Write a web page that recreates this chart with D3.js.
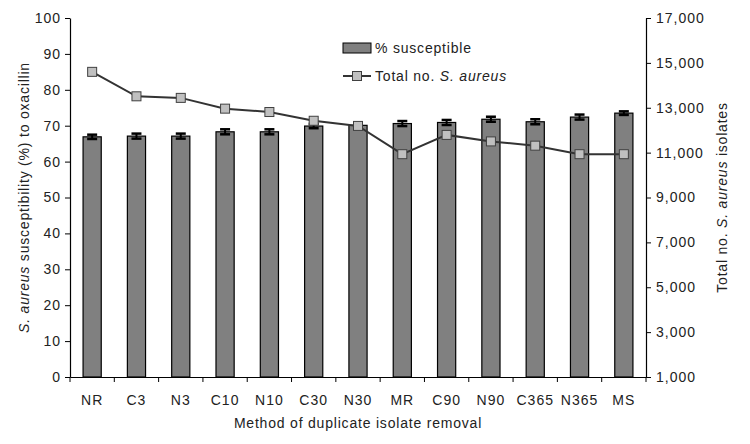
<!DOCTYPE html>
<html>
<head>
<meta charset="utf-8">
<script src="https://cdn.jsdelivr.net/npm/d3@7"></script>
<style>
  body { margin: 0; background: #fff; }
  text { font-family: "Liberation Sans", Arial, sans-serif; letter-spacing: 0.8px; }
</style>
</head>
<body>
<script>
'use strict'

var w = 750;
var h = 444;

// data
var methods = ["NR", "C3", "N3", "C10", "N10", "C30", "N30", "MR", "C90", "N90", "C365", "N365", "MS"];
var pctSusceptible = [66.9, 67.1, 67.1, 68.3, 68.3, 69.9, 70.1, 70.6, 70.9, 71.8, 71.1, 72.4, 73.5];
var pctError = [0.6, 0.7, 0.7, 0.7, 0.7, 0.6, 0.6, 0.7, 0.7, 0.7, 0.7, 0.7, 0.5];
var totalIsolates = [14600, 13510, 13440, 12960, 12810, 12420, 12190, 10930, 11790, 11500, 11310, 10930, 10930];
var leftTicks = [0, 10, 20, 30, 40, 50, 60, 70, 80, 90, 100];
var rightTicks = [1000, 3000, 5000, 7000, 9000, 11000, 13000, 15000, 17000];

var margin = {top: 18, right: 104, bottom: 67, left: 70};
var iw = w - margin.left - margin.right;
var ih = h - margin.top - margin.bottom;

var svg = d3.select("body")
  .append("svg")
  .attr("width", w)
  .attr("height", h);

var g = svg.append("g")
  .attr("transform", "translate(" + margin.left + "," + margin.top + ")");

var x = d3.scaleBand()
  .domain(methods)
  .range([0, iw])
  .paddingInner(0.59)
  .paddingOuter(0.295);

var xTick = d3.scaleBand().domain(methods).range([0, iw]);

var yL = d3.scaleLinear().domain([0, 100]).range([ih, 0]);
var yR = d3.scaleLinear().domain([1000, 17000]).range([ih, 0]);

//bars
g.selectAll("rect.bar")
  .data(pctSusceptible)
  .enter()
  .append("rect")
  .attr("class", "bar")
  .attr("x", function(d, i) { return x(methods[i]); })
  .attr("y", function(d) { return yL(d); })
  .attr("width", x.bandwidth())
  .attr("height", function(d) { return ih - yL(d); })
  .attr("fill", "#808080")
  .attr("stroke", "#000")
  .attr("stroke-width", 1.2);

//error bars
var eb = g.selectAll("g.err")
  .data(pctSusceptible)
  .enter()
  .append("g")
  .attr("class", "err")
  .attr("transform", function(d, i) {
    return "translate(" + (x(methods[i]) + x.bandwidth() / 2) + ",0)";
  });

eb.append("line")
  .attr("y1", function(d, i) { return yL(d + pctError[i]); })
  .attr("y2", function(d, i) { return yL(d - pctError[i]); })
  .attr("stroke", "#000")
  .attr("stroke-width", 2);

eb.selectAll("line.cap")
  .data(function(d, i) { return [d + pctError[i], d - pctError[i]]; })
  .enter()
  .append("line")
  .attr("class", "cap")
  .attr("x1", -5)
  .attr("x2", 5)
  .attr("y1", function(d) { return yL(d); })
  .attr("y2", function(d) { return yL(d); })
  .attr("stroke", "#000")
  .attr("stroke-width", 2.5);

//line + markers
var line = d3.line()
  .x(function(d, i) { return xTick(methods[i]) + xTick.bandwidth() / 2; })
  .y(function(d) { return yR(d); });

g.append("path")
  .datum(totalIsolates)
  .attr("d", line)
  .attr("fill", "none")
  .attr("stroke", "#333")
  .attr("stroke-width", 2);

g.selectAll("rect.mk")
  .data(totalIsolates)
  .enter()
  .append("rect")
  .attr("class", "mk")
  .attr("x", function(d, i) { return xTick(methods[i]) + xTick.bandwidth() / 2 - 4.5; })
  .attr("y", function(d) { return yR(d) - 4.5; })
  .attr("width", 9)
  .attr("height", 9)
  .attr("fill", "#c0c0c0")
  .attr("stroke", "#404040")
  .attr("stroke-width", 1);

//axes
var fmt = d3.format(",");

var axL = g.append("g")
  .call(d3.axisLeft(yL).tickValues(leftTicks).tickSize(5).tickPadding(4).tickSizeOuter(0));

var axR = g.append("g")
  .attr("transform", "translate(" + iw + ",0)")
  .call(d3.axisRight(yR).tickValues(rightTicks).tickFormat(fmt).tickSize(5).tickPadding(5).tickSizeOuter(0));

var axB = g.append("g")
  .attr("transform", "translate(0," + ih + ")")
  .call(d3.axisBottom(xTick).tickSize(0).tickPadding(18));

// x-axis ticks sit on band boundaries
axB.selectAll("line.bnd")
  .data(d3.range(methods.length + 1))
  .enter()
  .append("line")
  .attr("class", "bnd")
  .attr("x1", function(d) { return d * xTick.step(); })
  .attr("x2", function(d) { return d * xTick.step(); })
  .attr("y1", 0)
  .attr("y2", 5)
  .attr("stroke", "#000");

[axL, axR, axB].forEach(function(a) {
  a.select(".domain").attr("stroke", "#000").attr("stroke-width", 1.2);
  a.selectAll(".tick line").attr("stroke", "#000");
  a.selectAll("text")
    .style("font-family", "'Liberation Sans', Arial, sans-serif")
    .style("font-size", "14px")
    .style("letter-spacing", "1px")
    .attr("fill", "#222");
});

//axis titles
var lt = svg.append("text")
  .attr("transform", "translate(29," + (margin.top + ih / 2) + ") rotate(-90)")
  .attr("text-anchor", "middle")
  .style("font-size", "14px")
  .attr("fill", "#222");
lt.append("tspan").style("font-style", "italic").text("S. aureus");
lt.append("tspan").text(" susceptibility (%) to oxacillin");

var rt = svg.append("text")
  .attr("transform", "translate(727," + (margin.top + ih / 2) + ") rotate(-90)")
  .attr("text-anchor", "middle")
  .style("font-size", "14px")
  .attr("fill", "#222");
rt.append("tspan").text("Total no. ");
rt.append("tspan").style("font-style", "italic").text("S. aureus");
rt.append("tspan").text(" isolates");

svg.append("text")
  .attr("x", margin.left + iw / 2)
  .attr("y", 428)
  .attr("text-anchor", "middle")
  .style("font-size", "14px")
  .attr("fill", "#222")
  .text("Method of duplicate isolate removal");

//legend
var lg = svg.append("g").attr("transform", "translate(343,43)");
lg.append("rect")
  .attr("width", 28)
  .attr("height", 10)
  .attr("fill", "#808080")
  .attr("stroke", "#000");
lg.append("text")
  .attr("x", 32)
  .attr("y", 10)
  .style("font-size", "14px")
  .attr("fill", "#222")
  .text("% susceptible");

lg.append("line")
  .attr("x1", 0)
  .attr("x2", 28)
  .attr("y1", 33)
  .attr("y2", 33)
  .attr("stroke", "#333")
  .attr("stroke-width", 2);
lg.append("rect")
  .attr("x", 9.5)
  .attr("y", 28.5)
  .attr("width", 9)
  .attr("height", 9)
  .attr("fill", "#c0c0c0")
  .attr("stroke", "#404040");
var lt2 = lg.append("text")
  .attr("x", 32)
  .attr("y", 38)
  .style("font-size", "14px")
  .attr("fill", "#222");
lt2.append("tspan").text("Total no. ");
lt2.append("tspan").style("font-style", "italic").text("S. aureus");
</script>
</body>
</html>
